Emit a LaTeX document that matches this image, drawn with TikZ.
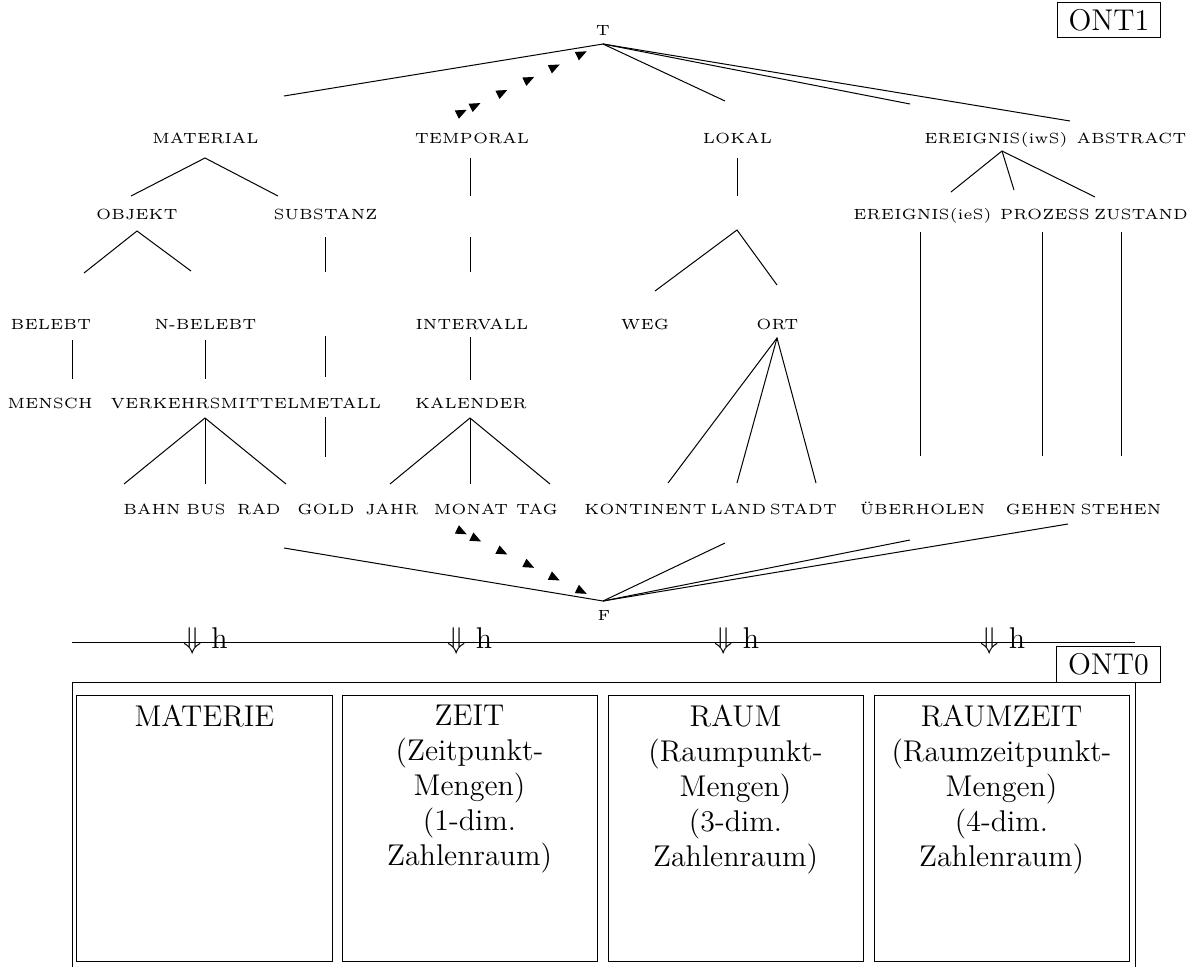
\documentclass[tikz,border=0pt]{standalone}
\usetikzlibrary{arrows.meta,decorations.markings}
\begin{document}
\begin{tikzpicture}[x=0.4pt,y=-0.4pt,
  lbl/.style={inner sep=0pt, anchor=base, scale=1.18, transform shape,
              font=\fontsize{5}{6}\selectfont},
  big/.style={inner sep=0pt, font=\fontsize{12}{14}\selectfont},
  edge/.style={line width=0.4pt},
  tagbox/.style={draw, line width=0.4pt, minimum width=41.4pt, minimum height=14.2pt,
                 inner sep=0pt, font=\fontsize{12}{14}\selectfont},
  panel/.style={draw, line width=0.4pt, minimum width=102pt, minimum height=106.4pt, inner sep=0pt},
  dotarrow/.style={decoration={markings,
      mark=at position 0.087 with {\arrow{Triangle[length=4.4pt,width=3.6pt]}},
      mark=at position #1 with {\arrow{Triangle[length=4.4pt,width=3.6pt]}},
      mark=at position 0.388 with {\arrow{Triangle[length=4.4pt,width=3.6pt]}},
      mark=at position 0.587 with {\arrow{Triangle[length=4.4pt,width=3.6pt]}},
      mark=at position 0.776 with {\arrow{Triangle[length=4.4pt,width=3.6pt]}},
      mark=at position 0.976 with {\arrow{Triangle[length=4.4pt,width=3.6pt]}}},
      postaction=decorate},
]
\useasboundingbox (0,0) rectangle (1193,967);

% ---------------- upper ontology ONT1 ----------------
\node[tagbox] (ont1) at (1109,20) {ONT1};

\node[lbl] (top) at (603,35.7) {T};
\node[lbl] (bot) at (604,620.5) {F};

% level 1
\node[lbl] (material) at (205.5,143) {MATERIAL};
\node[lbl] (temporal) at (472,143) {TEMPORAL};
\node[lbl] (lokal)    at (737.5,143) {LOKAL};
\node[lbl] (ereigw)   at (996,143) {EREIGNIS(iwS)};
\node[lbl] (abstract) at (1131.5,143) {ABSTRACT};
% level 2
\node[lbl] (objekt)   at (137,219) {OBJEKT};
\node[lbl] (substanz) at (325.5,219) {SUBSTANZ};
\node[lbl] (ereige)   at (922.5,219) {EREIGNIS(ieS)};
\node[lbl] (prozess)  at (1045,219) {PROZESS};
\node[lbl] (zustand)  at (1141,219) {ZUSTAND};
% level 3
\node[lbl] (belebt)    at (51,329) {BELEBT};
\node[lbl] (nbelebt)   at (205.5,329) {N-BELEBT};
\node[lbl] (intervall) at (472,329) {INTERVALL};
\node[lbl] (weg)       at (645,329) {WEG};
\node[lbl] (ort)       at (777.5,329) {ORT};
% level 4
\node[lbl] (mensch)   at (50,408) {MENSCH};
\node[lbl] (verkehr)  at (205,408) {VERKEHRSMITTEL};
\node[lbl] (metall)   at (340,408) {METALL};
\node[lbl] (kalender) at (471,408) {KALENDER};
% level 5
\node[lbl] (bahn)      at (152,514.5) {BAHN};
\node[lbl] (bus)       at (206,514.5) {BUS};
\node[lbl] (rad)       at (259,514.5) {RAD};
\node[lbl] (gold)      at (326,514.5) {GOLD};
\node[lbl] (jahr)      at (392,514.5) {JAHR};
\node[lbl] (monat)     at (471,514.5) {MONAT};
\node[lbl] (tag)       at (537,514.5) {TAG};
\node[lbl] (kontinent) at (645.5,514.5) {KONTINENT};
\node[lbl] (land)      at (738.5,514.5) {LAND};
\node[lbl] (stadt)     at (803.5,514.5) {STADT};
\node[lbl] (ueberh)    at (922.5,514.5) {ÜBERHOLEN};
\node[lbl] (gehen)     at (1041,514.5) {GEHEN};
\node[lbl] (stehen)    at (1121,514.5) {STEHEN};

% line end points
\coordinate (tApex) at (603,44);
\coordinate (tL1) at (284,96);
\coordinate (tL2) at (725,101);
\coordinate (tL3) at (910,104);
\coordinate (tL4) at (1070,121);
\coordinate (fApex) at (603,601);
\coordinate (fL1) at (284,548);
\coordinate (fL2) at (725,543);
\coordinate (fL3) at (910,540);
\coordinate (fL4) at (1068,524);

\coordinate (matA) at (205,158);  \coordinate (matL) at (131,196); \coordinate (matR) at (278,196);
\coordinate (tmp1a) at (470,158); \coordinate (tmp1b) at (470,196);
\coordinate (tmp2a) at (470,237); \coordinate (tmp2b) at (470,272);
\coordinate (tmp3a) at (470,337); \coordinate (tmp3b) at (470,380);
\coordinate (lok1a) at (737,158); \coordinate (lok1b) at (737,196);
\coordinate (lokA) at (737,230);  \coordinate (lokL) at (655,291); \coordinate (lokR) at (777,285);
\coordinate (evA) at (1002,151);  \coordinate (evL) at (951,192);
\coordinate (evM) at (1014,190);  \coordinate (evR) at (1095,197);
\coordinate (objA) at (137,231);  \coordinate (objL) at (84,273);  \coordinate (objR) at (191,271);
\coordinate (sub1a) at (325,237); \coordinate (sub1b) at (325,272);
\coordinate (sub2a) at (325,336); \coordinate (sub2b) at (325,377);
\coordinate (sub3a) at (325,417); \coordinate (sub3b) at (325,457);
\coordinate (belA) at (72,340);   \coordinate (belB) at (72,379);
\coordinate (nbelA) at (205,340); \coordinate (nbelB) at (205,379);
\coordinate (verA) at (205,418);  \coordinate (verL) at (124,484);
\coordinate (verM) at (205,484);  \coordinate (verR) at (286,484);
\coordinate (kalA) at (470,418);  \coordinate (kalL) at (390,484);
\coordinate (kalM) at (470,484);  \coordinate (kalR) at (550,484);
\coordinate (ortA) at (777,338);  \coordinate (ortL) at (668,483);
\coordinate (ortM) at (737,483);  \coordinate (ortR) at (816,483);
\coordinate (ev1a) at (920,232);  \coordinate (ev1b) at (920,456);
\coordinate (ev2a) at (1042,232); \coordinate (ev2b) at (1042,456);
\coordinate (ev3a) at (1121,232); \coordinate (ev3b) at (1121,456);

% edges
\draw[edge] (tL1) -- (tApex) -- (tL2);
\draw[edge] (tApex) -- (tL3);
\draw[edge] (tApex) -- (tL4);
\draw[edge] (fL1) -- (fApex) -- (fL2);
\draw[edge] (fApex) -- (fL3);
\draw[edge] (fApex) -- (fL4);

\draw[edge] (matL) -- (matA) -- (matR);
\draw[edge] (tmp1a) -- (tmp1b);
\draw[edge] (tmp2a) -- (tmp2b);
\draw[edge] (tmp3a) -- (tmp3b);
\draw[edge] (lok1a) -- (lok1b);
\draw[edge] (lokL) -- (lokA) -- (lokR);
\draw[edge] (evL) -- (evA) -- (evR);
\draw[edge] (evA) -- (evM);
\draw[edge] (objL) -- (objA) -- (objR);
\draw[edge] (sub1a) -- (sub1b);
\draw[edge] (sub2a) -- (sub2b);
\draw[edge] (sub3a) -- (sub3b);
\draw[edge] (belA) -- (belB);
\draw[edge] (nbelA) -- (nbelB);
\draw[edge] (verL) -- (verA) -- (verR);
\draw[edge] (verA) -- (verM);
\draw[edge] (kalL) -- (kalA) -- (kalR);
\draw[edge] (kalA) -- (kalM);
\draw[edge] (ortL) -- (ortA) -- (ortR);
\draw[edge] (ortA) -- (ortM);
\draw[edge] (ev1a) -- (ev1b);
\draw[edge] (ev2a) -- (ev2b);
\draw[edge] (ev3a) -- (ev3b);

% dotted arrows towards T and F
\coordinate (arT1) at (455,115.5); \coordinate (arT2) at (590,49.7);
\coordinate (arF1) at (455,528.5); \coordinate (arF2) at (590,595.5);
\path[dotarrow=0.189] (arT1) -- (arT2);
\path[dotarrow=0.194] (arF1) -- (arF2);

% ---------------- mapping h ----------------
\coordinate (hl1) at (72,642); \coordinate (hl2) at (1135,642);
\draw[edge] (hl1) -- (hl2);
\node[big, anchor=base] (h1) at (205.5,648) {$\Downarrow$ h};
\node[big, anchor=base] (h2) at (470,648) {$\Downarrow$ h};
\node[big, anchor=base] (h3) at (737,648) {$\Downarrow$ h};
\node[big, anchor=base] (h4) at (1003,648) {$\Downarrow$ h};

% ---------------- base ontology ONT0 ----------------
\coordinate (fr1) at (72,967);  \coordinate (fr2) at (72,682);
\coordinate (fr3) at (1135,682); \coordinate (fr4) at (1135,967);
\draw[edge] (fr1) -- (fr2) -- (fr3) -- (fr4);
\node[tagbox] (ont0) at (1108.5,664.5) {ONT0};

\node[panel] (box1) at (204.5,828) {};
\node[panel] (box2) at (469.5,828) {};
\node[panel] (box3) at (735.5,828) {};
\node[panel] (box4) at (1001.5,828) {};

\node[big, anchor=north, align=center] (t1) at ([yshift=-4pt]box1.north) {MATERIE};
\node[big, anchor=north, align=center] (t2) at ([yshift=-4pt]box2.north)
  {ZEIT\\(Zeitpunkt-\\Mengen)\\(1-dim.\\Zahlenraum)};
\node[big, anchor=north, align=center] (t3) at ([yshift=-4pt]box3.north)
  {RAUM\\(Raumpunkt-\\Mengen)\\(3-dim.\\Zahlenraum)};
\node[big, anchor=north, align=center] (t4) at ([yshift=-4pt]box4.north)
  {RAUMZEIT\\(Raumzeitpunkt-\\Mengen)\\(4-dim.\\Zahlenraum)};
\end{tikzpicture}
\end{document}
